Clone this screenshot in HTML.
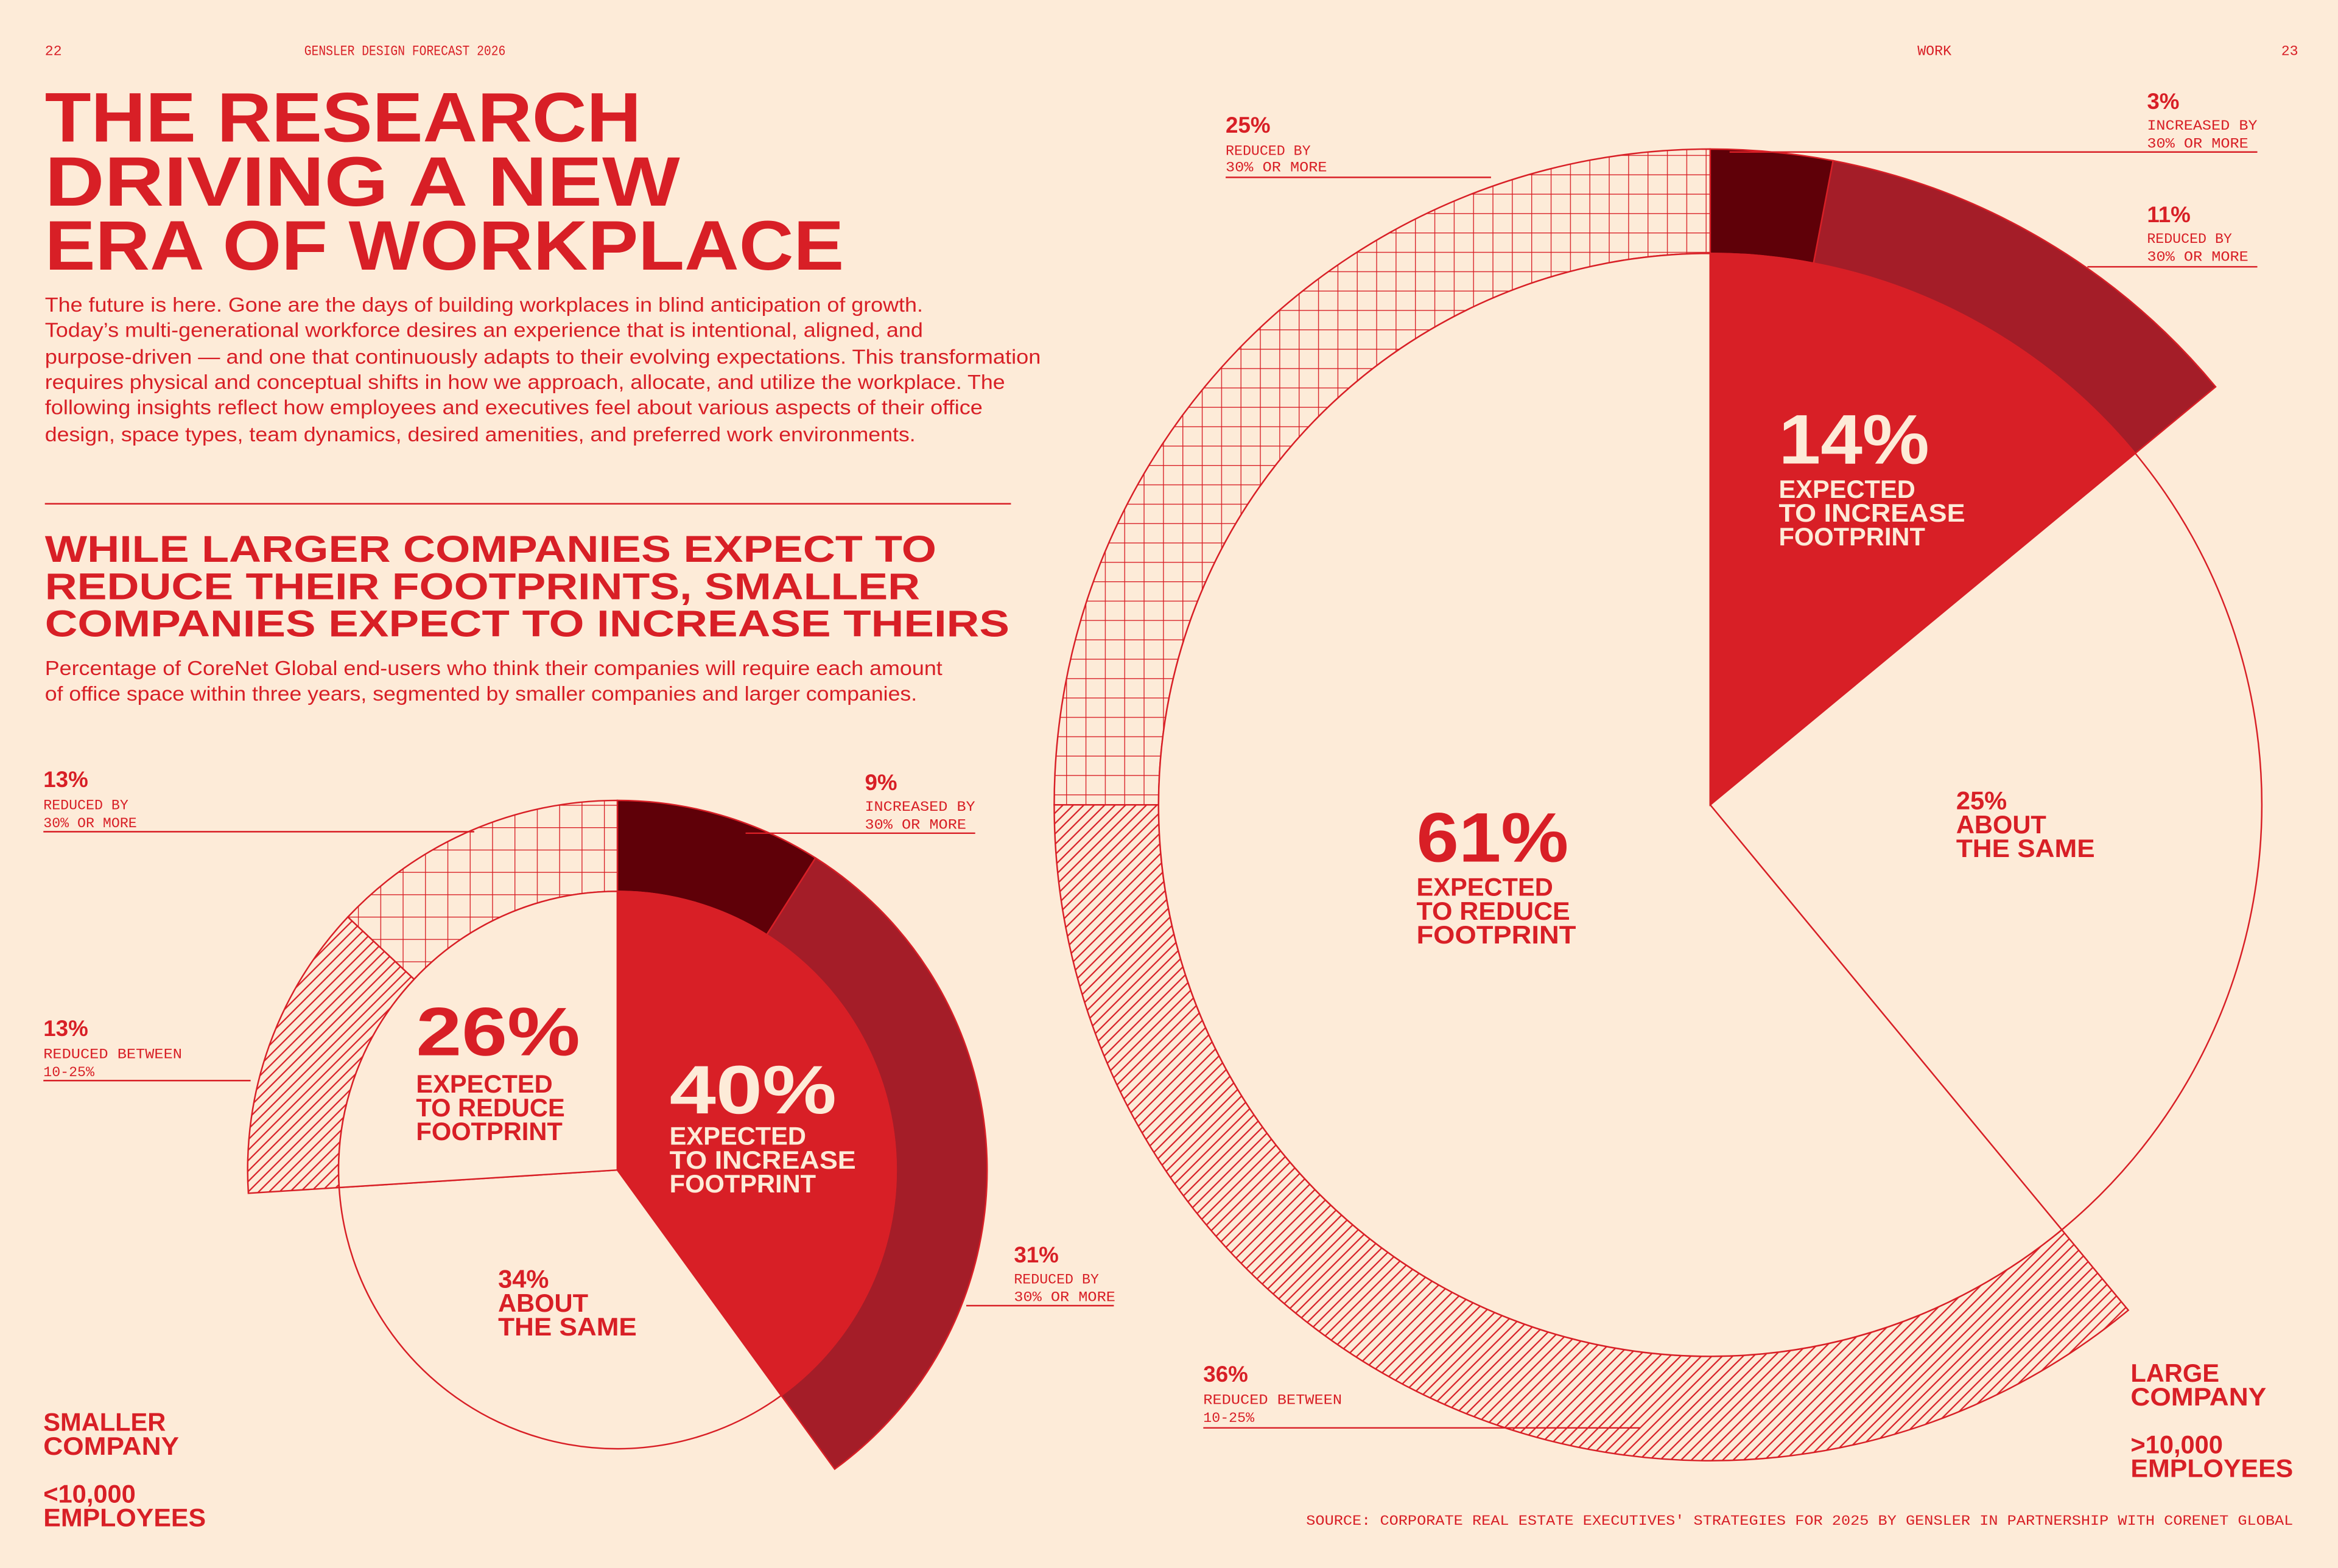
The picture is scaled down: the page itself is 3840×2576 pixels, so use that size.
<!DOCTYPE html>
<html><head><meta charset="utf-8"><style>
html,body{margin:0;padding:0;background:#fdebd8;}
svg{display:block;}
.t{font-family:"Liberation Sans",sans-serif;font-weight:bold;fill:#d81f26;}
.m{font-family:"Liberation Mono",monospace;fill:#d81f26;font-size:9.5px;}
.b{font-family:"Liberation Sans",sans-serif;fill:#d81f26;font-size:13.5px;}
.w{fill:#fdebd8;}
</style></head><body>
<svg id="page" width="3840" height="2576" viewBox="0 0 1568 1052" xmlns="http://www.w3.org/2000/svg">
<defs>
<pattern id="grid" patternUnits="userSpaceOnUse" width="13" height="13"><rect width="13" height="13" fill="#fdebd8"/><path d="M0 0H13M0 0V13" stroke="#d81f26" stroke-width="1.1" fill="none"/></pattern>
<pattern id="grid2" patternUnits="userSpaceOnUse" width="15" height="15"><rect width="15" height="15" fill="#fdebd8"/><path d="M0 0H15M0 0V15" stroke="#d81f26" stroke-width="1.1" fill="none"/></pattern>
<pattern id="hatch" patternUnits="userSpaceOnUse" width="7" height="7"><rect width="7" height="7" fill="#fdebd8"/><path d="M-1 8L8 -1M-1 1L1 -1M6 8L8 6" stroke="#d81f26" stroke-width="0.9"/></pattern>
</defs>
<rect width="1568" height="1052" fill="#fdebd8"/>
<g>
<text class="m" x="30" y="37" font-size="8">22</text>
<text class="m" x="204" y="37" font-size="8" textLength="135" lengthAdjust="spacingAndGlyphs">GENSLER DESIGN FORECAST 2026</text>
<text class="m" x="1286" y="37" font-size="8">WORK</text>
<text class="m" x="1530" y="37" font-size="8">23</text>
</g>
<g class="t" font-size="47">
<text x="30" y="95" textLength="400" lengthAdjust="spacingAndGlyphs">THE RESEARCH</text>
<text x="30" y="138" textLength="426" lengthAdjust="spacingAndGlyphs">DRIVING A NEW</text>
<text x="30" y="181" textLength="536" lengthAdjust="spacingAndGlyphs">ERA OF WORKPLACE</text>
</g>
<g class="b">
<text x="30" y="209" textLength="589" lengthAdjust="spacingAndGlyphs">The future is here. Gone are the days of building workplaces in blind anticipation of growth.</text>
<text x="30" y="226" textLength="589" lengthAdjust="spacingAndGlyphs">Today’s multi-generational workforce desires an experience that is intentional, aligned, and</text>
<text x="30" y="244" textLength="668" lengthAdjust="spacingAndGlyphs">purpose-driven — and one that continuously adapts to their evolving expectations. This transformation</text>
<text x="30" y="261" textLength="644" lengthAdjust="spacingAndGlyphs">requires physical and conceptual shifts in how we approach, allocate, and utilize the workplace. The</text>
<text x="30" y="278" textLength="629" lengthAdjust="spacingAndGlyphs">following insights reflect how employees and executives feel about various aspects of their office</text>
<text x="30" y="296" textLength="584" lengthAdjust="spacingAndGlyphs">design, space types, team dynamics, desired amenities, and preferred work environments.</text>
</g>
<line x1="30" y1="338" x2="678" y2="338" stroke="#d81f26" stroke-width="1"/>
<g class="t" font-size="25">
<text x="30" y="377" textLength="598" lengthAdjust="spacingAndGlyphs">WHILE LARGER COMPANIES EXPECT TO</text>
<text x="30" y="402" textLength="587" lengthAdjust="spacingAndGlyphs">REDUCE THEIR FOOTPRINTS, SMALLER</text>
<text x="30" y="427" textLength="647" lengthAdjust="spacingAndGlyphs">COMPANIES EXPECT TO INCREASE THEIRS</text>
</g>
<g class="b" font-size="14">
<text x="30" y="453" textLength="602" lengthAdjust="spacingAndGlyphs">Percentage of CoreNet Global end-users who think their companies will require each amount</text>
<text x="30" y="470" textLength="585" lengthAdjust="spacingAndGlyphs">of office space within three years, segmented by smaller companies and larger companies.</text>
</g>

<g id="charts"></g>

<g>
<line x1="29" y1="558" x2="318" y2="558" stroke="#d81f26"/>
<text class="t" x="29" y="528" font-size="15">13%</text>
<text class="m" x="29" y="543">REDUCED BY</text><text class="m" x="29" y="555">30% OR MORE</text>
<line x1="500" y1="559" x2="654" y2="559" stroke="#d81f26"/>
<text class="t" x="580" y="530" font-size="15">9%</text>
<text class="m" x="580" y="544" textLength="74" lengthAdjust="spacingAndGlyphs">INCREASED BY</text><text class="m" x="580" y="556" textLength="68" lengthAdjust="spacingAndGlyphs">30% OR MORE</text>
<line x1="29" y1="725" x2="168" y2="725" stroke="#d81f26"/>
<text class="t" x="29" y="695" font-size="15">13%</text>
<text class="m" x="29" y="710" textLength="93" lengthAdjust="spacingAndGlyphs">REDUCED BETWEEN</text><text class="m" x="29" y="722">10-25%</text>
<line x1="648" y1="876" x2="747" y2="876" stroke="#d81f26"/>
<text class="t" x="680" y="847" font-size="15">31%</text>
<text class="m" x="680" y="861">REDUCED BY</text><text class="m" x="680" y="873" textLength="68" lengthAdjust="spacingAndGlyphs">30% OR MORE</text>
<text class="t" x="279" y="708" font-size="46" textLength="110" lengthAdjust="spacingAndGlyphs">26%</text>
<text class="t" x="279" y="733" font-size="17">EXPECTED</text>
<text class="t" x="279" y="749" font-size="17">TO REDUCE</text>
<text class="t" x="279" y="765" font-size="17">FOOTPRINT</text>
<text class="t w" x="449" y="747" font-size="46" textLength="112" lengthAdjust="spacingAndGlyphs">40%</text>
<text class="t w" x="449" y="768" font-size="17">EXPECTED</text>
<text class="t w" x="449" y="784" font-size="17" textLength="125" lengthAdjust="spacingAndGlyphs">TO INCREASE</text>
<text class="t w" x="449" y="800" font-size="17">FOOTPRINT</text>
<text class="t" x="334" y="864" font-size="17">34%</text>
<text class="t" x="334" y="880" font-size="17">ABOUT</text>
<text class="t" x="334" y="896" font-size="17" textLength="93" lengthAdjust="spacingAndGlyphs">THE SAME</text>
<text class="t" x="29" y="960" font-size="17">SMALLER</text>
<text class="t" x="29" y="976" font-size="17" textLength="91" lengthAdjust="spacingAndGlyphs">COMPANY</text>
<text class="t" x="29" y="1008" font-size="17">&lt;10,000</text>
<text class="t" x="29" y="1024" font-size="17" textLength="109" lengthAdjust="spacingAndGlyphs">EMPLOYEES</text>
</g>
<g>
<line x1="822" y1="119" x2="1000" y2="119" stroke="#d81f26"/>
<text class="t" x="822" y="89" font-size="15">25%</text>
<text class="m" x="822" y="104">REDUCED BY</text><text class="m" x="822" y="115" textLength="68" lengthAdjust="spacingAndGlyphs">30% OR MORE</text>
<line x1="1160" y1="102" x2="1514" y2="102" stroke="#d81f26"/>
<text class="t" x="1440" y="73" font-size="15">3%</text>
<text class="m" x="1440" y="87" textLength="74" lengthAdjust="spacingAndGlyphs">INCREASED BY</text><text class="m" x="1440" y="99" textLength="68" lengthAdjust="spacingAndGlyphs">30% OR MORE</text>
<line x1="1400" y1="179" x2="1514" y2="179" stroke="#d81f26"/>
<text class="t" x="1440" y="149" font-size="15">11%</text>
<text class="m" x="1440" y="163">REDUCED BY</text><text class="m" x="1440" y="175" textLength="68" lengthAdjust="spacingAndGlyphs">30% OR MORE</text>
<line x1="807" y1="958" x2="1100" y2="958" stroke="#d81f26"/>
<text class="t" x="807" y="927" font-size="15">36%</text>
<text class="m" x="807" y="942" textLength="93" lengthAdjust="spacingAndGlyphs">REDUCED BETWEEN</text><text class="m" x="807" y="954">10-25%</text>
<text class="t w" x="1193" y="311" font-size="47" textLength="101" lengthAdjust="spacingAndGlyphs">14%</text>
<text class="t w" x="1193" y="334" font-size="17">EXPECTED</text>
<text class="t w" x="1193" y="350" font-size="17" textLength="125" lengthAdjust="spacingAndGlyphs">TO INCREASE</text>
<text class="t w" x="1193" y="366" font-size="17">FOOTPRINT</text>
<text class="t" x="950" y="578" font-size="47" textLength="102" lengthAdjust="spacingAndGlyphs">61%</text>
<text class="t" x="950" y="601" font-size="17">EXPECTED</text>
<text class="t" x="950" y="617" font-size="17" textLength="103" lengthAdjust="spacingAndGlyphs">TO REDUCE</text>
<text class="t" x="950" y="633" font-size="17" textLength="107" lengthAdjust="spacingAndGlyphs">FOOTPRINT</text>
<text class="t" x="1312" y="543" font-size="17">25%</text>
<text class="t" x="1312" y="559" font-size="17">ABOUT</text>
<text class="t" x="1312" y="575" font-size="17" textLength="93" lengthAdjust="spacingAndGlyphs">THE SAME</text>
<text class="t" x="1429" y="927" font-size="17">LARGE</text>
<text class="t" x="1429" y="943" font-size="17" textLength="91" lengthAdjust="spacingAndGlyphs">COMPANY</text>
<text class="t" x="1429" y="975" font-size="17">&gt;10,000</text>
<text class="t" x="1429" y="991" font-size="17" textLength="109" lengthAdjust="spacingAndGlyphs">EMPLOYEES</text>
</g>
<text class="m" x="876" y="1023" font-size="9.5" textLength="662" lengthAdjust="spacingAndGlyphs">SOURCE: CORPORATE REAL ESTATE EXECUTIVES' STRATEGIES FOR 2025 BY GENSLER IN PARTNERSHIP WITH CORENET GLOBAL</text>
</svg>
<script>
// Inner: increase, about the same, reduce
const smallInner = [40, 34, 26];
// Outer: increase 30%+, increase other, reduce 10-25%, reduce 30%+
const smallOuter = [9, 31, 13, 13];
const largeInner = [14, 25, 61];
const largeOuter = [3, 11, 36, 25];

const NS = 'http://www.w3.org/2000/svg';
const RED = '#d81f26', BG = '#fdebd8';
const g = document.getElementById('charts');
function pt(cx, cy, r, pct) { const a = pct * 3.6 * Math.PI / 180; return [cx + r * Math.sin(a), cy - r * Math.cos(a)]; }
function sector(cx, cy, r, p0, p1) {
  const a = pt(cx, cy, r, p0), b = pt(cx, cy, r, p1), lg = (p1 - p0) > 50 ? 1 : 0;
  return `M${cx} ${cy}L${a[0]} ${a[1]}A${r} ${r} 0 ${lg} 1 ${b[0]} ${b[1]}Z`;
}
function ring(cx, cy, r, R, p0, p1) {
  const a = pt(cx, cy, R, p0), b = pt(cx, cy, R, p1), c = pt(cx, cy, r, p1), d = pt(cx, cy, r, p0), lg = (p1 - p0) > 50 ? 1 : 0;
  return `M${a[0]} ${a[1]}A${R} ${R} 0 ${lg} 1 ${b[0]} ${b[1]}L${c[0]} ${c[1]}A${r} ${r} 0 ${lg} 0 ${d[0]} ${d[1]}Z`;
}
function add(d, fill, name) {
  const p = document.createElementNS(NS, 'path');
  p.setAttribute('d', d); p.setAttribute('fill', fill);
  p.setAttribute('stroke', RED); p.setAttribute('stroke-width', '1');
  p.setAttribute('stroke-linejoin', 'miter');
  
  
  g.appendChild(p);
}
function chart(prefix, cx, cy, r, R, inner, outer, grid) {
  const inc = inner[0], same = inner[1];
  let s = 0;
  add(ring(cx, cy, r, R, s, s + outer[0]), '#5f0008', prefix + '-increase-30-plus');
  s += outer[0];
  add(ring(cx, cy, r, R, s, s + outer[1]), '#a41d28', prefix + '-increase-10-25');
  s = inc + same;
  add(ring(cx, cy, r, R, s, s + outer[2]), 'url(#hatch)', prefix + '-reduce-10-25');
  s += outer[2];
  add(ring(cx, cy, r, R, s, s + outer[3]), grid, prefix + '-reduce-30-plus');
  add(sector(cx, cy, r, inc, inc + same), BG, prefix + '-about-same');
  add(sector(cx, cy, r, inc + same, 100), BG, prefix + '-reduce-total');
  add(sector(cx, cy, r, 0, inc), RED, prefix + '-increase-total');
}
chart('small', 414, 785, 187, 248, smallInner, smallOuter, 'url(#grid2)');
chart('large', 1147, 540, 370, 440, largeInner, largeOuter, 'url(#grid)');
</script>
</body></html>
